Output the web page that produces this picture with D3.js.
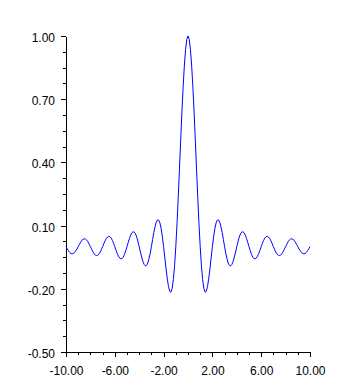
<!DOCTYPE html>
<html>
<head>
<meta charset="utf-8">
<script src="https://cdn.jsdelivr.net/npm/d3@7"></script>
<style>
  html, body { margin: 0; padding: 0; background: #fff; }
  svg { display: block; }
  .axis text { font-family: "Liberation Sans", Arial, sans-serif; font-size: 12px; fill: #000; }
  .axis path, .axis line { stroke: #000; shape-rendering: crispEdges; }
</style>
</head>
<body>
<svg id="chart" width="355" height="385"></svg>
<script>
// sample positions along x
const xValues = [
  -10.0, -9.9, -9.8, -9.7, -9.6, -9.5, -9.4, -9.3, -9.2, -9.1,
  -9.0, -8.9, -8.8, -8.7, -8.6, -8.5, -8.4, -8.3, -8.2, -8.1,
  -8.0, -7.9, -7.8, -7.7, -7.6, -7.5, -7.4, -7.3, -7.2, -7.1,
  -7.0, -6.9, -6.8, -6.7, -6.6, -6.5, -6.4, -6.3, -6.2, -6.1,
  -6.0, -5.9, -5.8, -5.7, -5.6, -5.5, -5.4, -5.3, -5.2, -5.1,
  -5.0, -4.9, -4.8, -4.7, -4.6, -4.5, -4.4, -4.3, -4.2, -4.1,
  -4.0, -3.9, -3.8, -3.7, -3.6, -3.5, -3.4, -3.3, -3.2, -3.1,
  -3.0, -2.9, -2.8, -2.7, -2.6, -2.5, -2.4, -2.3, -2.2, -2.1,
  -2.0, -1.9, -1.8, -1.7, -1.6, -1.5, -1.4, -1.3, -1.2, -1.1,
  -1.0, -0.9, -0.8, -0.7, -0.6, -0.5, -0.4, -0.3, -0.2, -0.1,
  0.0,
  0.1, 0.2, 0.3, 0.4, 0.5, 0.6, 0.7, 0.8, 0.9, 1.0,
  1.1, 1.2, 1.3, 1.4, 1.5, 1.6, 1.7, 1.8, 1.9, 2.0,
  2.1, 2.2, 2.3, 2.4, 2.5, 2.6, 2.7, 2.8, 2.9, 3.0,
  3.1, 3.2, 3.3, 3.4, 3.5, 3.6, 3.7, 3.8, 3.9, 4.0,
  4.1, 4.2, 4.3, 4.4, 4.5, 4.6, 4.7, 4.8, 4.9, 5.0,
  5.1, 5.2, 5.3, 5.4, 5.5, 5.6, 5.7, 5.8, 5.9, 6.0,
  6.1, 6.2, 6.3, 6.4, 6.5, 6.6, 6.7, 6.8, 6.9, 7.0,
  7.1, 7.2, 7.3, 7.4, 7.5, 7.6, 7.7, 7.8, 7.9, 8.0,
  8.1, 8.2, 8.3, 8.4, 8.5, 8.6, 8.7, 8.8, 8.9, 9.0,
  9.1, 9.2, 9.3, 9.4, 9.5, 9.6, 9.7, 9.8, 9.9, 10.0
];
// curve values
const yValues = [
  0.000, -0.010, -0.019, -0.027, -0.032, -0.034, -0.032, -0.028, -0.020, -0.011,
  0.000, 0.011, 0.021, 0.030, 0.035, 0.037, 0.036, 0.031, 0.023, 0.012,
  0.000, -0.012, -0.024, -0.033, -0.040, -0.042, -0.041, -0.035, -0.026, -0.014,
  0.000, 0.014, 0.028, 0.038, 0.046, 0.049, 0.047, 0.041, 0.030, 0.016,
  0.000, -0.017, -0.032, -0.045, -0.054, -0.058, -0.056, -0.049, -0.036, -0.019,
  0.000, 0.020, 0.039, 0.055, 0.066, 0.071, 0.069, 0.060, 0.045, 0.024,
  0.000, -0.025, -0.049, -0.070, -0.084, -0.091, -0.089, -0.078, -0.058, -0.032,
  0.000, 0.034, 0.067, 0.095, 0.116, 0.127, 0.126, 0.112, 0.085, 0.047,
  0.000, -0.052, -0.104, -0.151, -0.189, -0.212, -0.216, -0.198, -0.156, -0.089,
  0.000, 0.109, 0.234, 0.368, 0.505, 0.637, 0.757, 0.858, 0.935, 0.984,
  1.000,
  0.984, 0.935, 0.858, 0.757, 0.637, 0.505, 0.368, 0.234, 0.109, 0.000,
  -0.089, -0.156, -0.198, -0.216, -0.212, -0.189, -0.151, -0.104, -0.052, 0.000,
  0.047, 0.085, 0.112, 0.126, 0.127, 0.116, 0.095, 0.067, 0.034, 0.000,
  -0.032, -0.058, -0.078, -0.089, -0.091, -0.084, -0.070, -0.049, -0.025, 0.000,
  0.024, 0.045, 0.060, 0.069, 0.071, 0.066, 0.055, 0.039, 0.020, 0.000,
  -0.019, -0.036, -0.049, -0.056, -0.058, -0.054, -0.045, -0.032, -0.017, 0.000,
  0.016, 0.030, 0.041, 0.047, 0.049, 0.046, 0.038, 0.028, 0.014, 0.000,
  -0.014, -0.026, -0.035, -0.041, -0.042, -0.040, -0.033, -0.024, -0.012, 0.000,
  0.012, 0.023, 0.031, 0.036, 0.037, 0.035, 0.030, 0.021, 0.011, 0.000,
  -0.011, -0.020, -0.028, -0.032, -0.034, -0.032, -0.027, -0.019, -0.010, 0.000
];
const xMajorTicks = [-10, -6, -2, 2, 6, 10];
const xMinorTicks = [-9, -8, -7, -5, -4, -3, -1, 0, 1, 3, 4, 5, 7, 8, 9];
const yMajorTicks = [-0.5, -0.2, 0.1, 0.4, 0.7, 1.0];
const yMinorTicks = [-0.425, -0.35, -0.275, -0.125, -0.05, 0.025, 0.175, 0.25, 0.325, 0.475, 0.55, 0.625, 0.775, 0.85, 0.925];

const svg = d3.select("#chart");
const x = d3.scaleLinear().domain([-10, 10]).range([66, 310]);
const y = d3.scaleLinear().domain([-0.5, 1.0]).range([352, 36]);
const fmt = d3.formatLocale({decimal: ".", thousands: ",", grouping: [3], currency: ["", ""], minus: "-"}).format(".2f");

// x axis
svg.append("g").attr("class", "axis").attr("transform", "translate(0,352)")
  .call(d3.axisBottom(x).tickValues(xMinorTicks).tickSize(3).tickSizeOuter(0).tickFormat(""));
svg.append("g").attr("class", "axis").attr("transform", "translate(0,352)")
  .call(d3.axisBottom(x).tickValues(xMajorTicks).tickSize(5).tickSizeOuter(0).tickPadding(9).tickFormat(fmt));

// y axis
svg.append("g").attr("class", "axis").attr("transform", "translate(66,0)")
  .call(d3.axisLeft(y).tickValues(yMinorTicks).tickSize(3).tickSizeOuter(0).tickFormat(""));
const yAx = svg.append("g").attr("class", "axis").attr("transform", "translate(66,0)")
  .call(d3.axisLeft(y).tickValues(yMajorTicks).tickSize(5).tickSizeOuter(0).tickPadding(6).tickFormat(fmt));
yAx.selectAll("text").attr("dy", "0.45em");
svg.selectAll(".axis .domain").attr("stroke", "#000");

// curve
const pts = xValues.map((v, i) => [v, yValues[i]]);
svg.append("path")
  .datum(pts)
  .attr("fill", "none")
  .attr("stroke", "#0000ff")
  .attr("stroke-width", 1)
  .attr("d", d3.line().x(d => x(d[0])).y(d => y(d[1])));
</script>
</body>
</html>
